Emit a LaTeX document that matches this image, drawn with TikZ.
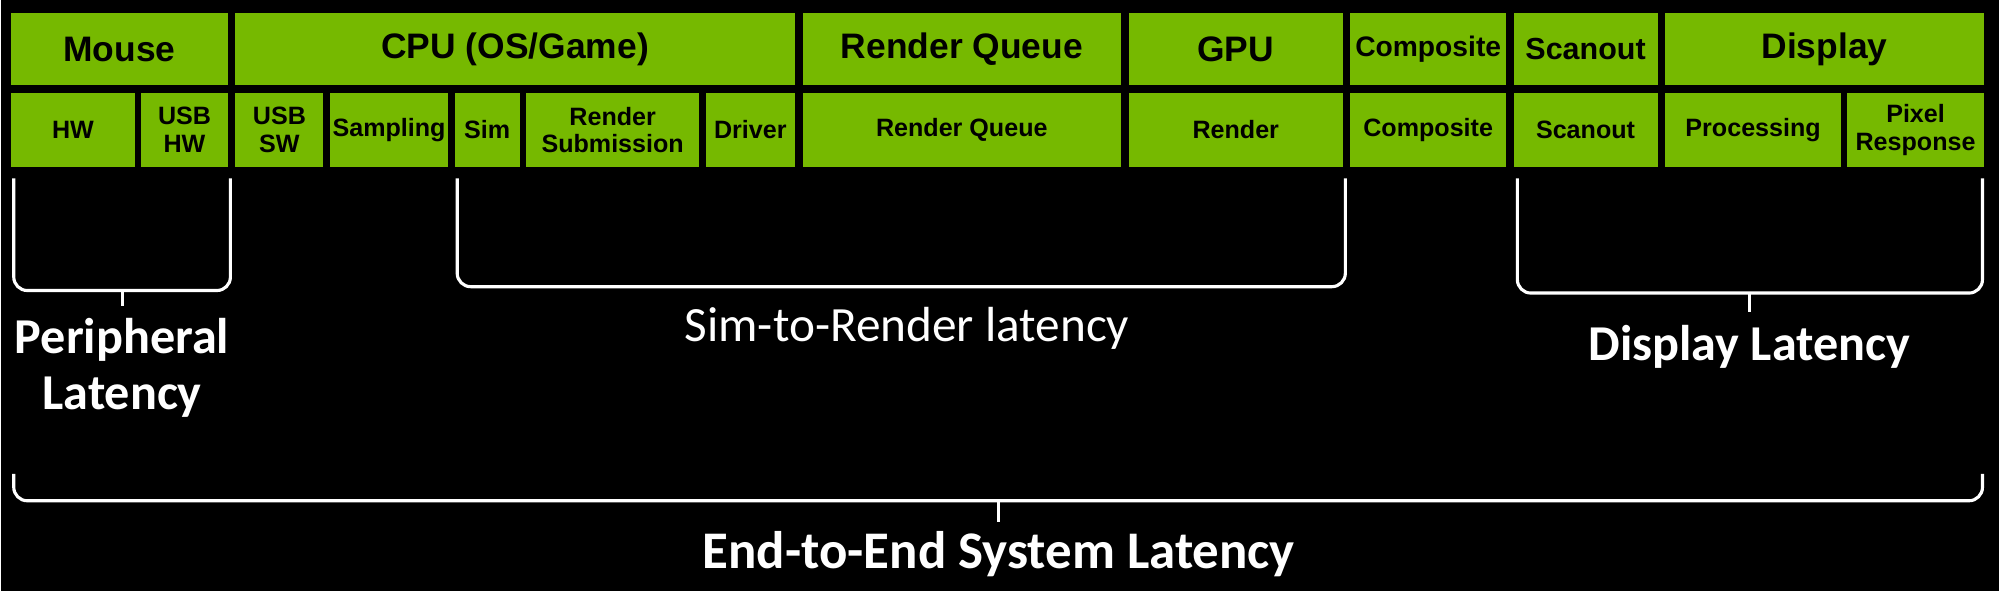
\documentclass[tikz,border=0pt]{standalone}
\usepackage{fontspec}
\setmainfont{Carlito}
\newfontfamily\boxfont{Liberation Sans}
\usetikzlibrary{positioning,calc}
\definecolor{nvgreen}{HTML}{76B900}

\tikzset{
  stage/.style={fill=nvgreen,draw=none,inner sep=0pt,align=center,
    font=\boxfont\bfseries\fontsize{7.9}{8.5}\selectfont},
  sub/.style={stage,font=\boxfont\bfseries\fontsize{5.6}{6.2}\selectfont},
  brk/.style={draw=white,line width=0.7pt,rounded corners=3pt},
  lbl/.style={text=white,font=\bfseries\fontsize{11.2}{12.5}\selectfont,align=center}
}

% \stagebox{name}{style}{x1}{x2}{y1}{y2}{text}
\newcommand{\stagebox}[7]{%
  \node[#2,minimum width={(#4-#3)*0.01cm},minimum height={(#6-#5)*0.01cm}]
    (#1) at ({(#3+#4)/2},{(#5+#6)/2}) {#7};}

\begin{document}
\begin{tikzpicture}[x=0.01cm,y=-0.01cm]

\fill[black] (0,0) rectangle (1568,464);

% top row
\stagebox{mouse}{stage}{8}{178}{10}{67}{Mouse}
\stagebox{cpu}{stage}{184}{623}{10}{67}{CPU (OS/Game)}
\stagebox{rq}{stage}{629}{879}{10}{67}{Render Queue}
\stagebox{gpu}{stage}{885}{1053}{10}{67}{GPU}
\stagebox{comp}{stage,font=\boxfont\bfseries\fontsize{6.3}{7}\selectfont}{1059}{1181}{10}{67}{Composite}
\stagebox{scan}{stage,font=\boxfont\bfseries\fontsize{6.8}{7}\selectfont}{1187}{1300}{10}{67}{Scanout}
\stagebox{disp}{stage}{1306}{1556}{10}{67}{Display}

% bottom row
\stagebox{hw}{sub}{8}{105}{73}{131}{HW}
\stagebox{usbhw}{sub}{110}{178}{73}{131}{USB\\HW}
\stagebox{usbsw}{sub}{184}{253}{73}{131}{USB\\SW}
\stagebox{sampling}{sub}{258}{351}{73}{131}{Sampling}
\stagebox{sim}{sub}{356}{407}{73}{131}{Sim}
\stagebox{submit}{sub}{412}{548}{73}{131}{Render\\Submission}
\stagebox{driver}{sub}{553}{623}{73}{131}{Driver}
\stagebox{rqsub}{sub}{629}{879}{73}{131}{Render Queue}
\stagebox{render}{sub}{885}{1053}{73}{131}{Render}
\stagebox{compsub}{sub}{1059}{1181}{73}{131}{Composite}
\stagebox{scansub}{sub}{1187}{1300}{73}{131}{Scanout}
\stagebox{proc}{sub}{1306}{1444}{73}{131}{Processing}
\stagebox{pixel}{sub}{1449}{1556}{73}{131}{Pixel\\Response}

% brackets
\draw[brk] (10,140) -- (10,228) -- (180,228) -- (180,140);
\draw[brk,rounded corners=0pt] (95,228) -- (95,240);
\draw[brk] (358,140) -- (358,225) -- (1055,225) -- (1055,140);
\draw[brk] (1190,140) -- (1190,230) -- (1555,230) -- (1555,140);
\draw[brk,rounded corners=0pt] (1372,230) -- (1372,245);
\draw[brk] (10,372) -- (10,393) -- (1555,393) -- (1555,372);
\draw[brk,rounded corners=0pt] (783,393) -- (783,410);

% labels
\node[lbl] (periph) at (95,289) {Peripheral\\Latency};
\node[lbl,font=\fontsize{11}{12}\selectfont] (s2r) at (711,258) {Sim-to-Render latency};
\node[lbl] (displat) at (1372,272) {Display Latency};
\node[lbl,font=\bfseries\fontsize{11.8}{13}\selectfont] (e2e) at (783,435) {End-to-End System Latency};

\end{tikzpicture}
\end{document}
